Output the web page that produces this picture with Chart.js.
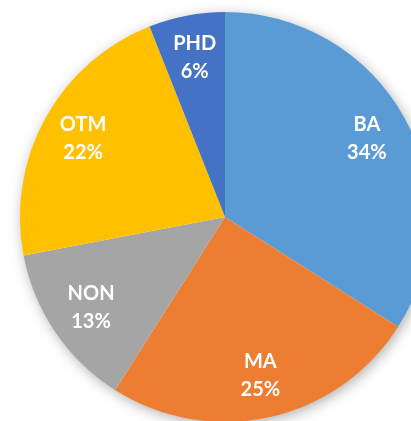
<!DOCTYPE html>
<html>
<head>
<meta charset="utf-8">
<script src="https://cdn.jsdelivr.net/npm/chart.js@4"></script>
<style>
  html, body { margin: 0; padding: 0; background: #fff; overflow: hidden; }
  #wrap { position: absolute; left: 0; top: 0; width: 450px; height: 434px; }
</style>
</head>
<body>
<div id="wrap"><canvas id="myChart"></canvas></div>
<script>
// values, clockwise from 12 o'clock
var labels = ['BA', 'MA', 'NON', 'OTM', 'PHD']
var values = [34, 25, 13, 22, 6]
var colores = ['#5B9BD5', '#ED7D31', '#A5A5A5', '#FFC000', '#4472C4']

// soft shadow behind the pie, like the office effect
const sombra = {
    id: 'sombra',
    beforeDatasetsDraw(chart) {
        var arc = chart.getDatasetMeta(0).data[0]
        if (!arc) return
        var ctx = chart.ctx
        ctx.save()
        ctx.shadowColor = 'rgba(0,0,0,0.35)'
        ctx.shadowBlur = 14
        ctx.shadowOffsetX = 2
        ctx.shadowOffsetY = 3
        ctx.fillStyle = '#ffffff'
        ctx.beginPath()
        ctx.arc(arc.x, arc.y, arc.outerRadius - 1, 0, Math.PI * 2)
        ctx.fill()
        ctx.restore()
    }
}

// name + percent inside each slice
const etiquetas = {
    id: 'etiquetas',
    afterDatasetsDraw(chart) {
        var ctx = chart.ctx
        var meta = chart.getDatasetMeta(0)
        var total = values.reduce(function (a, b) { return a + b }, 0)
        ctx.save()
        ctx.fillStyle = '#ffffff'
        ctx.font = 'bold 20px Lato, "Open Sans", sans-serif'
        ctx.textAlign = 'center'
        ctx.textBaseline = 'middle'
        meta.data.forEach(function (arc, i) {
            var mid = (arc.startAngle + arc.endAngle) / 2
            var d = arc.outerRadius * 0.79
            var x = arc.x + Math.cos(mid) * d
            var y = arc.y + Math.sin(mid) * d
            var pct = Math.round(values[i] / total * 100) + '%'
            ctx.fillText(labels[i], x, y - 14)
            ctx.fillText(pct, x, y + 14)
        })
        ctx.restore()
    }
}

const config = {
    type: 'pie',
    data: {
        labels: labels,
        datasets: [{
            data: values,
            backgroundColor: colores,
            borderWidth: 0
        }]
    },
    options: {
        responsive: true,
        maintainAspectRatio: false,
        animation: false,
        layout: { padding: { top: 12, bottom: 12, left: 0, right: 0 } },
        plugins: {
            legend: { display: false },
            tooltip: { enabled: false }
        }
    },
    plugins: [sombra, etiquetas]
}

const myChart = new Chart(document.getElementById('myChart'), config)
</script>
</body>
</html>
